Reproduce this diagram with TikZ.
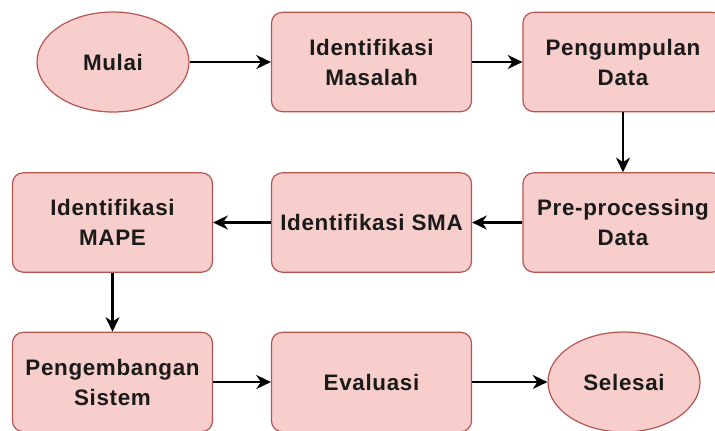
\documentclass[tikz,border=0pt]{standalone}
\usepackage{fontspec}
\setmainfont{Liberation Sans}[LetterSpace=3]
\usetikzlibrary{arrows.meta,shapes.geometric}
\definecolor{boxfill}{HTML}{F8CECC}
\definecolor{boxline}{HTML}{B85450}
\definecolor{txt}{HTML}{1A1A1A}
\begin{document}
\begin{tikzpicture}[x=0.75pt,y=-0.75pt,
  stepbox/.style={draw=boxline,fill=boxfill,line width=0.9pt,rounded corners=8pt,
    minimum width=150pt,minimum height=74.5pt,inner sep=0pt,align=center,
    font=\fontsize{16.8pt}{22.5pt}\selectfont\bfseries,text=txt},
  termbox/.style={ellipse,draw=boxline,fill=boxfill,line width=0.9pt,
    minimum width=114pt,minimum height=75pt,inner sep=0pt,align=center,
    font=\fontsize{16.8pt}{22.5pt}\selectfont\bfseries,text=txt},
  flow/.style={draw=black,line width=1.6pt,-{Stealth[length=11pt,width=10.5pt,inset=3.5pt]}}]
\useasboundingbox (0,0) rectangle (715,430);
\begin{scope}
\clip (0,0) rectangle (715,430);
\node[termbox] (mulai) at (113,62) {Mulai};
\node[stepbox] (idmas) at (371.5,62) {Identifikasi\\Masalah};
\node[stepbox] (kumpul) at (623,62) {Pengumpulan\\Data};
\node[stepbox] (pre) at (623,222.5) {Pre-processing\\Data};
\node[stepbox] (sma) at (371.5,222.5) {Identifikasi SMA};
\node[stepbox] (mape) at (112.5,222.5) {Identifikasi\\MAPE};
\node[stepbox] (kembang) at (112.5,382) {Pengembangan\\Sistem};
\node[stepbox] (eval) at (371.5,382) {Evaluasi};
\node[termbox] (selesai) at (624,382) {Selesai};
\draw[flow] (mulai) -- (idmas);
\draw[flow] (idmas) -- (kumpul);
\draw[flow] (kumpul) -- (pre);
\draw[flow] (pre) -- (sma);
\draw[flow] (sma) -- (mape);
\draw[flow] (mape) -- (kembang);
\draw[flow] (kembang) -- (eval);
\draw[flow] (eval) -- (selesai);
\end{scope}
\end{tikzpicture}
\end{document}
